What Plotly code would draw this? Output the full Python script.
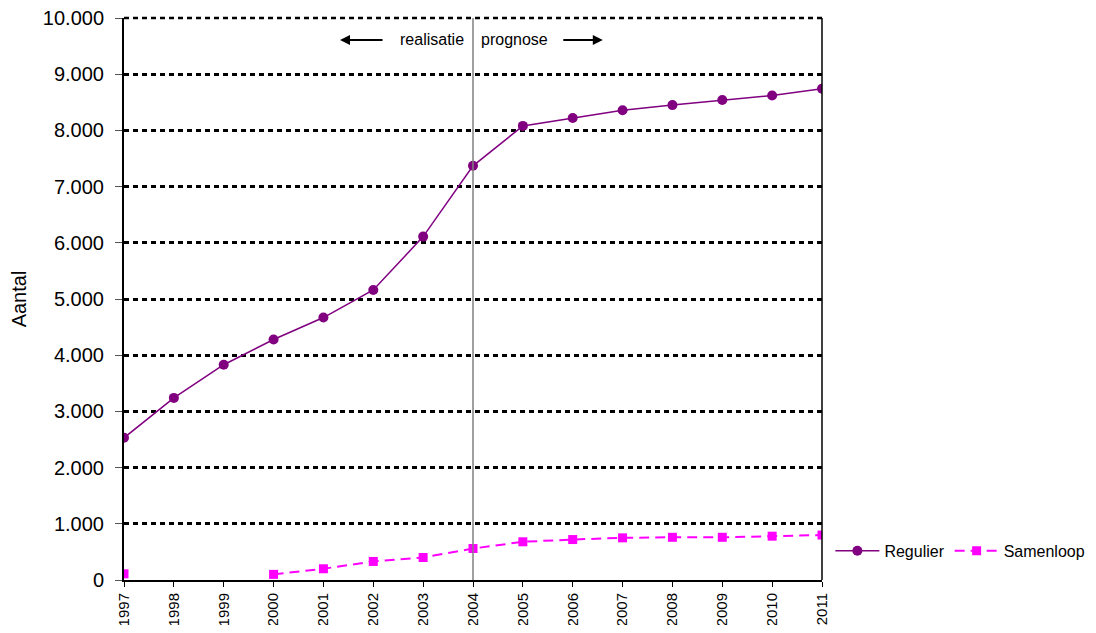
import plotly.graph_objects as go

years = list(range(1997, 2012))
regulier = [2530, 3240, 3830, 4280, 4670, 5160, 6110, 7370, 8080, 8220, 8360, 8450, 8540, 8620, 8740]
samenloop = [110, None, None, 100, 200, 330, 400, 560, 680, 720, 750, 760, 760, 780, 800]
y_ticks = list(range(0, 10001, 1000))

fig = go.Figure()
fig.add_trace(go.Scatter(x=years, y=regulier, name="Regulier", mode="lines+markers",
                         line=dict(color="#800080", width=1.5),
                         marker=dict(symbol="circle", size=10, color="#800080")))
fig.add_trace(go.Scatter(x=years, y=samenloop, name="Samenloop", mode="lines+markers",
                         connectgaps=False,
                         line=dict(color="#FF00FF", width=2, dash="10px,6px"),
                         marker=dict(symbol="square", size=9, color="#FF00FF")))

fig.add_shape(type="line", x0=2004, x1=2004, y0=0, y1=10000, xref="x", yref="y",
              line=dict(color="#808080", width=1.5), layer="above")

# right border
fig.add_shape(type="line", x0=1, x1=1, y0=0, y1=1, xref="paper", yref="paper",
              line=dict(color="black", width=1.5))
# top gridline (dotted) at the range maximum
fig.add_shape(type="line", x0=0, x1=1, y0=1, y1=1, xref="paper", yref="paper",
              line=dict(color="black", width=2.5, dash="5px,4px"), layer="below")

fig.add_annotation(text="realisatie", x=2004, y=9610, xref="x", yref="y", xshift=-7,
                   xanchor="right", showarrow=False, font=dict(size=16, color="black"))
fig.add_annotation(text="prognose", x=2004, y=9610, xref="x", yref="y", xshift=6,
                   xanchor="left", showarrow=False, font=dict(size=16, color="black"))
fig.add_annotation(text="", x=0.3095, y=9610, xref="paper", yref="y", ax=44, ay=0,
                   showarrow=True, arrowhead=2, arrowsize=1, arrowwidth=2, arrowcolor="black")
fig.add_annotation(text="", x=0.686, y=9610, xref="paper", yref="y", ax=-41, ay=0,
                   showarrow=True, arrowhead=2, arrowsize=1, arrowwidth=2, arrowcolor="black")

fig.update_layout(
    width=1080, height=617,
    margin=dict(l=116, r=266, t=10, b=45, autoexpand=False),
    paper_bgcolor="white", plot_bgcolor="white",
    separators=",.",
    font=dict(family="Liberation Sans, Arial, sans-serif", color="black"),
    showlegend=True,
    legend=dict(orientation="h", x=1.012, y=0.052, xanchor="left", yanchor="middle",
                font=dict(size=16), bgcolor="rgba(0,0,0,0)", itemwidth=44),
    xaxis=dict(range=[1997, 2011], tickmode="array", tickvals=years,
               ticktext=[str(y) for y in years], tickangle=-90,
               tickfont=dict(size=15), showgrid=False, zeroline=False, automargin=False,
               showline=True, linecolor="black", linewidth=2, ticklabeloverflow="allow",
               ticks="outside", ticklen=5, tickcolor="black"),
    yaxis=dict(range=[0, 10000], tickmode="array", tickvals=y_ticks,
               tickformat=",d", tickfont=dict(size=20), automargin=False,
               ticklabeloverflow="allow", ticklabelstandoff=7,
               title=dict(text="Aantal", font=dict(size=20), standoff=28),
               showgrid=True, gridcolor="black", gridwidth=2.5, griddash="5px,4px",
               zeroline=False, showline=True, linecolor="black", linewidth=2,
               ticks="outside", ticklen=7, tickcolor="#555555"),
)

fig.write_html("out.html")
